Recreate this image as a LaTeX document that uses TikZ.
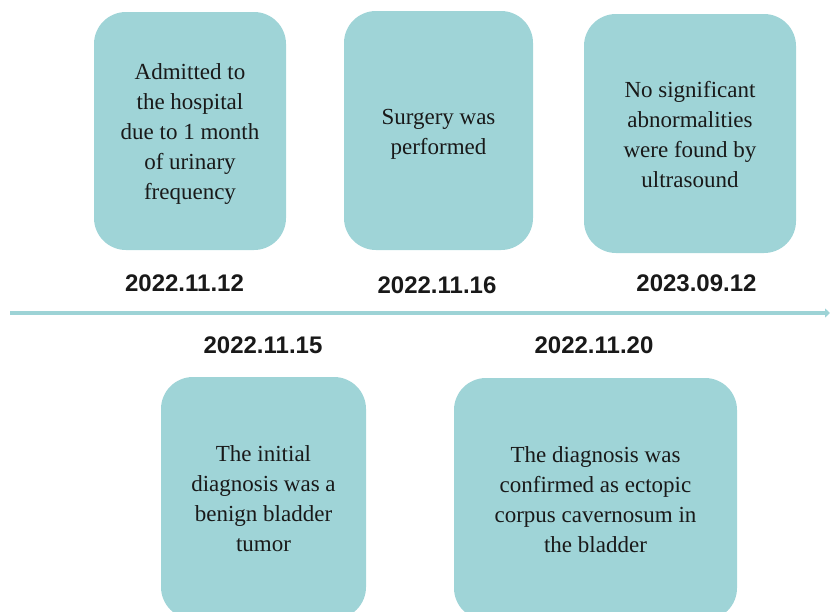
\documentclass[tikz,border=0pt]{standalone}
\usepackage{fontspec}
\setmainfont{Liberation Serif}
\newfontfamily\datefont{Liberation Sans}
\usetikzlibrary{arrows.meta}
\definecolor{boxfill}{HTML}{9FD4D7}
\definecolor{linecol}{HTML}{9DD3D6}
\begin{document}
\begin{tikzpicture}[x=1pt,y=-1pt,
  evbox/.style={fill=boxfill, draw=none, rounded corners=32pt, inner sep=0pt},
  evtext/.style={inner sep=0pt, align=center, font=\fontsize{23}{30}\selectfont, text=black!90},
  datelbl/.style={font=\datefont\bfseries\fontsize{24}{28}\selectfont, inner sep=0pt, text=black!90}]
\useasboundingbox (0,0) rectangle (830,611);
\clip (0,0) rectangle (830,611);
% timeline
\coordinate (ls) at (10,313);
\coordinate (le) at (830,313);
\draw[linecol, line width=4.5pt, -{Triangle[length=5pt,width=9pt]}] (ls) -- (le);
% upper boxes
\node[evbox, minimum width=192pt, minimum height=238pt] (b1) at (190,131) {};
\node[evtext] (t1) at (190,133.5)
  {Admitted to\\the hospital\\due to 1 month\\of urinary\\frequency};
\node[evbox, minimum width=189pt, minimum height=239pt] (b2) at (438.5,130.5) {};
\node[evtext] (t2) at (438.5,134.5) {Surgery was\\performed};
\node[evbox, minimum width=212pt, minimum height=239pt] (b3) at (690,133.5) {};
\node[evtext] (t3) at (690,134.5)
  {No significant\\abnormalities\\were found by\\ultrasound};
% lower boxes
\node[evbox, minimum width=205pt, minimum height=242pt] (b4) at (263.5,498) {};
\node[evtext] (t4) at (263.5,498.5)
  {The initial\\diagnosis was a\\benign bladder\\tumor};
\node[evbox, minimum width=283pt, minimum height=242pt] (b5) at (595.5,499) {};
\node[evtext] (t5) at (595.5,499.5)
  {The diagnosis was\\confirmed as ectopic\\corpus cavernosum in\\the bladder};
% dates
\node[datelbl] (d1) at (184.5,283) {2022.11.12};
\node[datelbl] (d2) at (437,285) {2022.11.16};
\node[datelbl] (d3) at (696.5,283) {2023.09.12};
\node[datelbl] (d4) at (263,345) {2022.11.15};
\node[datelbl] (d5) at (594,345) {2022.11.20};
\end{tikzpicture}
\end{document}
